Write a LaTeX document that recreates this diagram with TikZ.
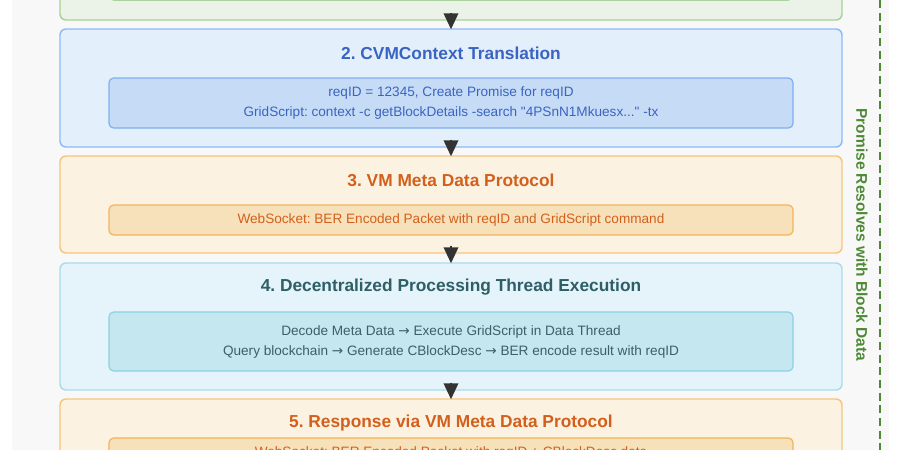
\documentclass[tikz,border=0pt]{standalone}
\usepackage{fontspec}
\setmainfont{Liberation Sans}
\newfontfamily\arrowfont{DejaVu Sans}
\usetikzlibrary{arrows.meta,calc}
\definecolor{bgray}{HTML}{F8F8F8}
\definecolor{greenb}{HTML}{A8D096}
\definecolor{greenf}{HTML}{EBF3E8}
\definecolor{greenib}{HTML}{8CC47A}
\definecolor{greenif}{HTML}{D8EBD0}
\definecolor{blueb}{HTML}{8DBAF5}
\definecolor{bluef}{HTML}{E4EFFC}
\definecolor{blueib}{HTML}{7FAFF0}
\definecolor{blueif}{HTML}{C6DCF6}
\definecolor{bluet}{HTML}{3A64C2}
\definecolor{orangeb}{HTML}{F6C57A}
\definecolor{orangef}{HTML}{FCF2E2}
\definecolor{orangeib}{HTML}{F2B45A}
\definecolor{orangeif}{HTML}{F7E1BA}
\definecolor{oranget}{HTML}{D2601C}
\definecolor{cyanb}{HTML}{A8DCEC}
\definecolor{cyanf}{HTML}{E5F4FA}
\definecolor{cyanib}{HTML}{8ED0E3}
\definecolor{cyanif}{HTML}{C4E7F0}
\definecolor{cyant}{HTML}{2E5E66}
\definecolor{cyantx}{HTML}{3D5F66}
\definecolor{greent}{HTML}{4E8A35}
\definecolor{arrowc}{HTML}{333333}
\newcommand{\ra}{{\arrowfont →}}
\frenchspacing
\begin{document}
\begin{tikzpicture}[x=0.75pt, y=-0.75pt, line join=round,
    stage/.style={draw, line width=1.1pt, rounded corners=4.5pt, minimum width=586.5pt, inner sep=0pt},
    inbox/.style={draw, line width=0.9pt, rounded corners=3.5pt, minimum width=513pt, inner sep=0pt, align=center, font=\fontsize{10.2}{15}\selectfont},
    ttl/.style={font=\fontsize{13}{15}\selectfont\bfseries},
    flow/.style={draw=arrowc, fill=arrowc, line width=1.2pt, -{Triangle[length=12pt,width=11pt]}},
    promise/.style={draw=greent, line width=1.6pt, dash pattern=on 6pt off 3.5pt}]
    \def\xc{451}
    \useasboundingbox (0,0) rectangle (900,450);
    \clip (0,0) rectangle (900,450);
    \fill[bgray] (12,0) rectangle (889,450);
    % stage 1 (cut at the top)
    \node[stage, draw=greenb, fill=greenf, minimum height=75pt] (b1) at (\xc,-30) {};
    \node[inbox, draw=greenib, fill=greenif, minimum height=30pt] (i1) at (\xc,-20) {};
    % stage 2
    \node[stage, draw=blueb, fill=bluef, minimum height=88.5pt] (b2) at (\xc,88) {};
    \node[ttl, text=bluet] (t2) at (\xc,53) {2. CVMContext Translation};
    \node[inbox, draw=blueib, fill=blueif, text=bluet, minimum height=37.5pt] (i2) at (\xc,103)
        {reqID = 12345, Create Promise for reqID\\GridScript: context -c getBlockDetails -search \textquotedbl 4PSnN1Mkuesx...\textquotedbl{} -tx};
    % stage 3
    \node[stage, draw=orangeb, fill=orangef, minimum height=72.75pt] (b3) at (\xc,204.5) {};
    \node[ttl, text=oranget] (t3) at (\xc,180) {3. VM Meta Data Protocol};
    \node[inbox, draw=orangeib, fill=orangeif, text=oranget, minimum height=22.5pt] (i3) at (\xc,220)
        {WebSocket: BER Encoded Packet with reqID and GridScript command};
    % stage 4
    \node[stage, draw=cyanb, fill=cyanf, minimum height=95.25pt] (b4) at (\xc,326.5) {};
    \node[ttl, text=cyant] (t4) at (\xc,287) {4. Decentralized Processing Thread Execution};
    \node[inbox, draw=cyanib, fill=cyanif, text=cyantx, minimum height=44.25pt] (i4) at (\xc,341.5)
        {Decode Meta Data \ra{} Execute GridScript in Data Thread\\Query blockchain \ra{} Generate CBlockDesc \ra{} BER encode result with reqID};
    % stage 5 (cut at the bottom)
    \node[stage, draw=orangeb, fill=orangef, minimum height=72.75pt] (b5) at (\xc,447.5) {};
    \node[ttl, text=oranget] (t5) at (\xc,423) {5. Response via VM Meta Data Protocol};
    \node[inbox, draw=orangeib, fill=orangeif, text=oranget, minimum height=22.5pt] (i5) at (\xc,453)
        {WebSocket: BER Encoded Packet with reqID + CBlockDesc data};
    % arrows
    \foreach \a/\b in {b1/b2, b2/b3, b3/b4, b4/b5}
        \draw[flow] ($(\a.south)+(0,-8)$) -- ($(\b.north)+(0,1)$);
    % promise line
    \coordinate (ptop) at (880,0);
    \coordinate (pbot) at (880,450);
    \draw[promise] (ptop) -- (pbot);
    \node[rotate=-90, text=greent, font=\fontsize{11.6}{13}\selectfont\bfseries] (plabel) at (862,235) {Promise Resolves with Block Data};
\end{tikzpicture}
\end{document}
